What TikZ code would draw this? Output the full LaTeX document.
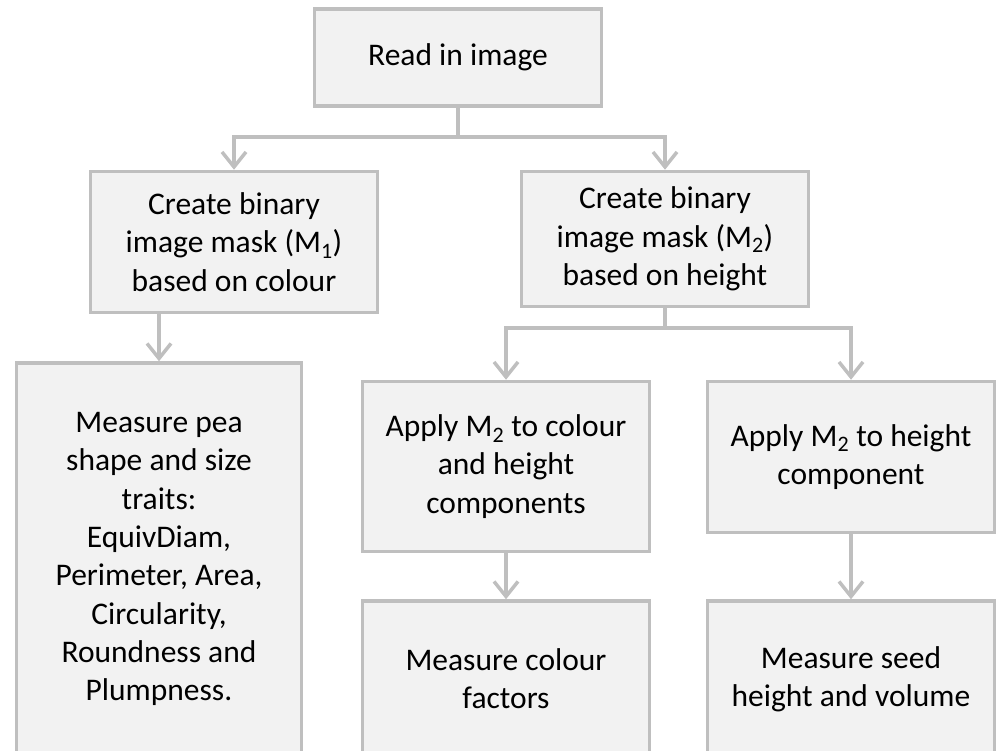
\documentclass[tikz,border=0pt]{standalone}
\usepackage{fontspec}
\setmainfont{Carlito}
\usetikzlibrary{
  arrows.meta,
  positioning
}
\definecolor{boxline}{RGB}{191,191,191}
\definecolor{boxfill}{RGB}{242,242,242}

\begin{document}
\begin{tikzpicture}[
      x=1pt, y=-1pt,
      process/.style={
         rectangle,
         draw=boxline,
         fill=boxfill,
         line width=3.5pt,
         inner sep=0pt,
         align=center,
         font=\fontsize{31.5}{38.3}\selectfont
      },
      flow/.style={
         draw=boxline,
         line width=3.5pt,
         -{Straight Barb[length=15pt,width=24pt]}
      },
      link/.style={draw=boxline,line width=3.5pt}
    ]
    \useasboundingbox (0,0) rectangle (998,751);
    \clip (0,0) rectangle (998,751);
    % boxes
    \node (read)  [process, minimum width=287pt, minimum height=97pt]  at (458,57.5)  {Read in image};
    \node (maskc) [process, minimum width=287pt, minimum height=141pt] at (234,242)   {Create binary\\image mask (M\textsubscript{1})\\based on colour};
    \node (maskh) [process, minimum width=287pt, minimum height=135pt] at (665,239)   {Create binary\\image mask (M\textsubscript{2})\\based on height};
    \node (shape) [process, minimum width=285pt, minimum height=392pt] at (159,559)   {Measure pea\\shape and size\\traits:\\EquivDiam,\\Perimeter, Area,\\Circularity,\\Roundness and\\Plumpness.};
    \node (applc) [process, minimum width=287pt, minimum height=170pt] at (506,466.5) {Apply M\textsubscript{2} to colour\\and height\\components};
    \node (applh) [process, minimum width=287pt, minimum height=151pt] at (851,457)   {Apply M\textsubscript{2} to height\\component};
    \node (colr)  [process, minimum width=287pt, minimum height=156pt] at (506,679)   {Measure colour\\factors};
    \node (seed)  [process, minimum width=287pt, minimum height=156pt] at (851,679)   {Measure seed\\height and volume};
    % branch points
    \coordinate (split1) at (458,137);
    \coordinate (split2) at (665,328);
    % connectors
    \draw[link] (read) -- (split1);
    \draw[flow] (split1) -| (maskc);
    \draw[flow] (split1) -| (maskh);
    \draw[flow] (maskc.south -| shape.north) -- (shape);
    \draw[link] (maskh) -- (split2);
    \draw[flow] (split2) -| (applc);
    \draw[flow] (split2) -| (applh);
    \draw[flow] (applc) -- (colr);
    \draw[flow] (applh) -- (seed);
\end{tikzpicture}
\end{document}
